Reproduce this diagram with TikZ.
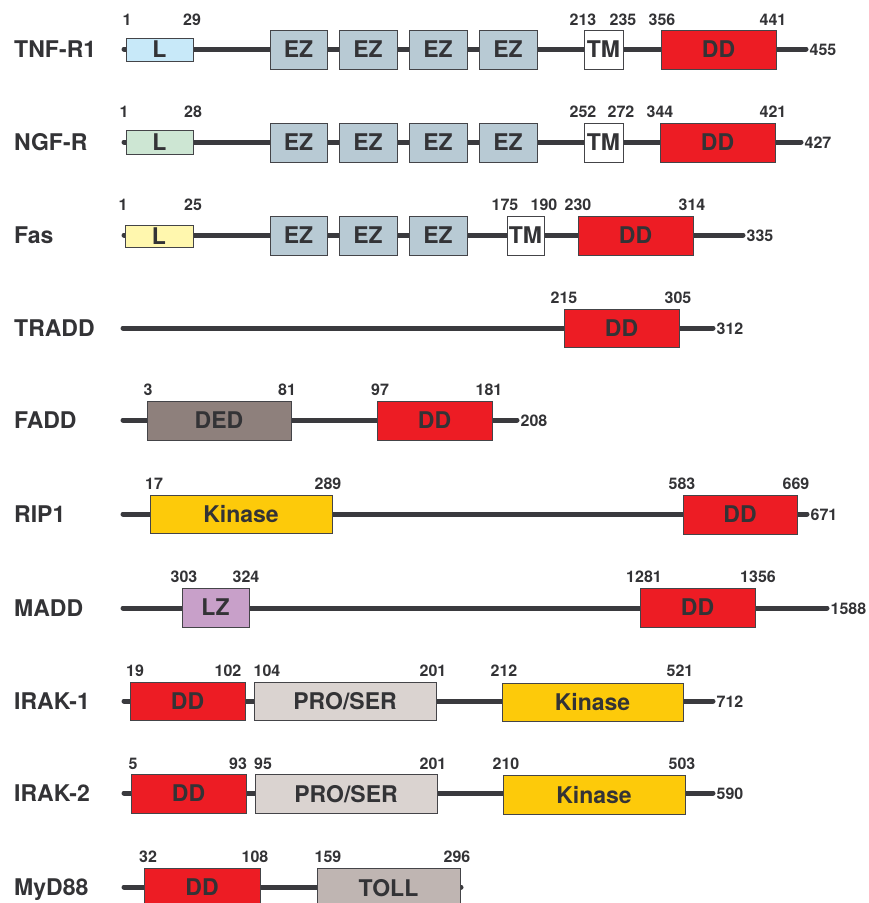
\documentclass[tikz,border=0pt]{standalone}
\usepackage{fontspec}
\setmainfont{TeX Gyre Heros}
\definecolor{linec}{HTML}{3A3A3E}
\definecolor{txt}{HTML}{333336}
\definecolor{bord}{HTML}{444448}
\definecolor{ddred}{HTML}{ED1C24}
\definecolor{ezc}{HTML}{B8CAD4}
\definecolor{lblue}{HTML}{C8E9F9}
\definecolor{lgreen}{HTML}{CDE6D3}
\definecolor{lyellow}{HTML}{FFF7AE}
\definecolor{dedc}{HTML}{8E807C}
\definecolor{kinc}{HTML}{FDCA0A}
\definecolor{lzc}{HTML}{C8A0C9}
\definecolor{proc}{HTML}{DAD3D0}
\definecolor{tollc}{HTML}{BFB5B2}
\newcommand\dom[7]{\node[dombox,fill=#6,minimum width={(#3-#2)*1pt},minimum height={(#5-#4)*1pt}] (#1) at ({(#2+#3)/2},{(#4+#5)/2}) {#7};}
\newcommand\numl[4]{\node[numlab] (#1) at (#2,#3) {#4};}
\newcommand\row[6]{%
  \coordinate (#1s) at (#3,#2);
  \coordinate (#1e) at (#4,#2);
  \draw[backbone] (#1s) -- (#1e);
  \node[namelab] (#1name) at (14,#2) {#5};
  \node[endlab] (#1end) at ({#4+3.5},{#2+0.5}) {#6};}
\begin{document}
\begin{tikzpicture}[x=1pt,y=-1pt,
  backbone/.style={line width=5pt,color=linec,line cap=round},
  dombox/.style={draw=bord,line width=1pt,inner sep=0pt,text=txt,text depth=0pt,
    font=\fontsize{23}{27}\selectfont\bfseries},
  numlab/.style={anchor=base,text=txt,inner sep=0pt,font=\fontsize{16}{19}\selectfont\bfseries},
  endlab/.style={anchor=west,text=txt,inner sep=0pt,text depth=0pt,font=\fontsize{16}{19}\selectfont\bfseries},
  namelab/.style={anchor=west,text=txt,inner sep=0pt,text depth=0pt,font=\fontsize{23}{27}\selectfont\bfseries}]
\useasboundingbox (0,0) rectangle (869,903);
% ---------- TNF-R1
\row{a}{49}{124}{806}{TNF-R1}{455}
\dom{aL}{126}{193}{38}{61}{lblue}{L}
\dom{aE1}{270}{327}{30}{69}{ezc}{EZ}
\dom{aE2}{339}{397}{30}{69}{ezc}{EZ}
\dom{aE3}{409}{467}{30}{69}{ezc}{EZ}
\dom{aE4}{479}{537}{30}{69}{ezc}{EZ}
\dom{aTM}{584}{623}{30}{69}{white}{TM}
\dom{aDD}{661}{776}{30}{69}{ddred}{DD}
\numl{an1}{127}{25}{1}\numl{an2}{192}{25}{29}\numl{an3}{583}{25}{213}
\numl{an4}{623}{25}{235}\numl{an5}{662}{25}{356}\numl{an6}{773}{25}{441}
% ---------- NGF-R
\row{b}{142}{124}{801}{NGF-R}{427}
\dom{bL}{126}{193}{130}{154}{lgreen}{L}
\dom{bE1}{270}{327}{123}{162}{ezc}{EZ}
\dom{bE2}{339}{397}{123}{162}{ezc}{EZ}
\dom{bE3}{409}{467}{123}{162}{ezc}{EZ}
\dom{bE4}{479}{537}{123}{162}{ezc}{EZ}
\dom{bTM}{584}{623}{123}{162}{white}{TM}
\dom{bDD}{660}{775}{123}{162}{ddred}{DD}
\numl{bn1}{124}{117}{1}\numl{bn2}{193}{117}{28}\numl{bn3}{583}{117}{252}
\numl{bn4}{621}{117}{272}\numl{bn5}{660}{117}{344}\numl{bn6}{773}{117}{421}
% ---------- Fas
\row{c}{235}{124}{743}{Fas}{335}
\dom{cL}{125}{193}{225}{247}{lyellow}{L}
\dom{cE1}{270}{327}{216}{255}{ezc}{EZ}
\dom{cE2}{339}{397}{216}{255}{ezc}{EZ}
\dom{cE3}{409}{467}{216}{255}{ezc}{EZ}
\dom{cTM}{507}{544}{216}{255}{white}{TM}
\dom{cDD}{578}{693}{216}{255}{ddred}{DD}
\numl{cn1}{123}{210}{1}\numl{cn2}{193}{210}{25}\numl{cn3}{505}{210}{175}
\numl{cn4}{544}{210}{190}\numl{cn5}{578}{210}{230}\numl{cn6}{692}{210}{314}
% ---------- TRADD
\row{d}{328}{123}{713}{TRADD}{312}
\dom{dDD}{564}{679}{309}{347}{ddred}{DD}
\numl{dn1}{564}{303}{215}\numl{dn2}{678}{303}{305}
% ---------- FADD
\row{e}{420}{123}{517}{FADD}{208}
\dom{eDED}{147}{291}{401}{440}{dedc}{DED}
\dom{eDD}{377}{492}{401}{440}{ddred}{DD}
\numl{en1}{148}{395}{3}\numl{en2}{287}{395}{81}\numl{en3}{380}{395}{97}\numl{en4}{489}{395}{181}
% ---------- RIP1
\row{f}{514}{123}{807}{RIP1}{671}
\dom{fK}{150}{332}{495}{533}{kinc}{Kinase}
\dom{fDD}{683}{797}{495}{534}{ddred}{DD}
\numl{fn1}{154}{489}{17}\numl{fn2}{328}{489}{289}\numl{fn3}{682}{489}{583}\numl{fn4}{796}{489}{669}
% ---------- MADD
\row{g}{608}{123}{827}{MADD}{1588}
\dom{gLZ}{182}{249}{588}{627}{lzc}{LZ}
\dom{gDD}{640}{755}{588}{627}{ddred}{DD}
\numl{gn1}{184}{582}{303}\numl{gn2}{246}{582}{324}\numl{gn3}{644}{582}{1281}\numl{gn4}{758}{582}{1356}
% ---------- IRAK-1
\row{h}{701}{124}{713}{IRAK-1}{712}
\dom{hDD}{130}{245}{682}{720}{ddred}{DD}
\dom{hP}{254}{436}{682}{720}{proc}{PRO/SER}
\dom{hK}{502}{683}{683}{721}{kinc}{Kinase}
\numl{hn1}{135}{676}{19}\numl{hn2}{228}{676}{102}\numl{hn3}{267}{676}{104}
\numl{hn4}{433}{676}{201}\numl{hn5}{504}{676}{212}\numl{hn6}{680}{676}{521}
% ---------- IRAK-2
\row{i}{793}{124}{713}{IRAK-2}{590}
\dom{iDD}{131}{246}{774}{813}{ddred}{DD}
\dom{iP}{255}{437}{774}{813}{proc}{PRO/SER}
\dom{iK}{503}{685}{775}{814}{kinc}{Kinase}
\numl{in1}{133}{769}{5}\numl{in2}{238}{769}{93}\numl{in3}{263}{769}{95}
\numl{in4}{433}{769}{201}\numl{in5}{506}{769}{210}\numl{in6}{682}{769}{503}
% ---------- MyD88
\row{j}{887}{124}{461}{MyD88}{}
\dom{jDD}{144}{260}{868}{907}{ddred}{DD}
\dom{jT}{317}{460}{868}{907}{tollc}{TOLL}
\numl{jn1}{148}{862}{32}\numl{jn2}{255}{862}{108}\numl{jn3}{328}{862}{159}\numl{jn4}{457}{862}{296}
\end{tikzpicture}
\end{document}
